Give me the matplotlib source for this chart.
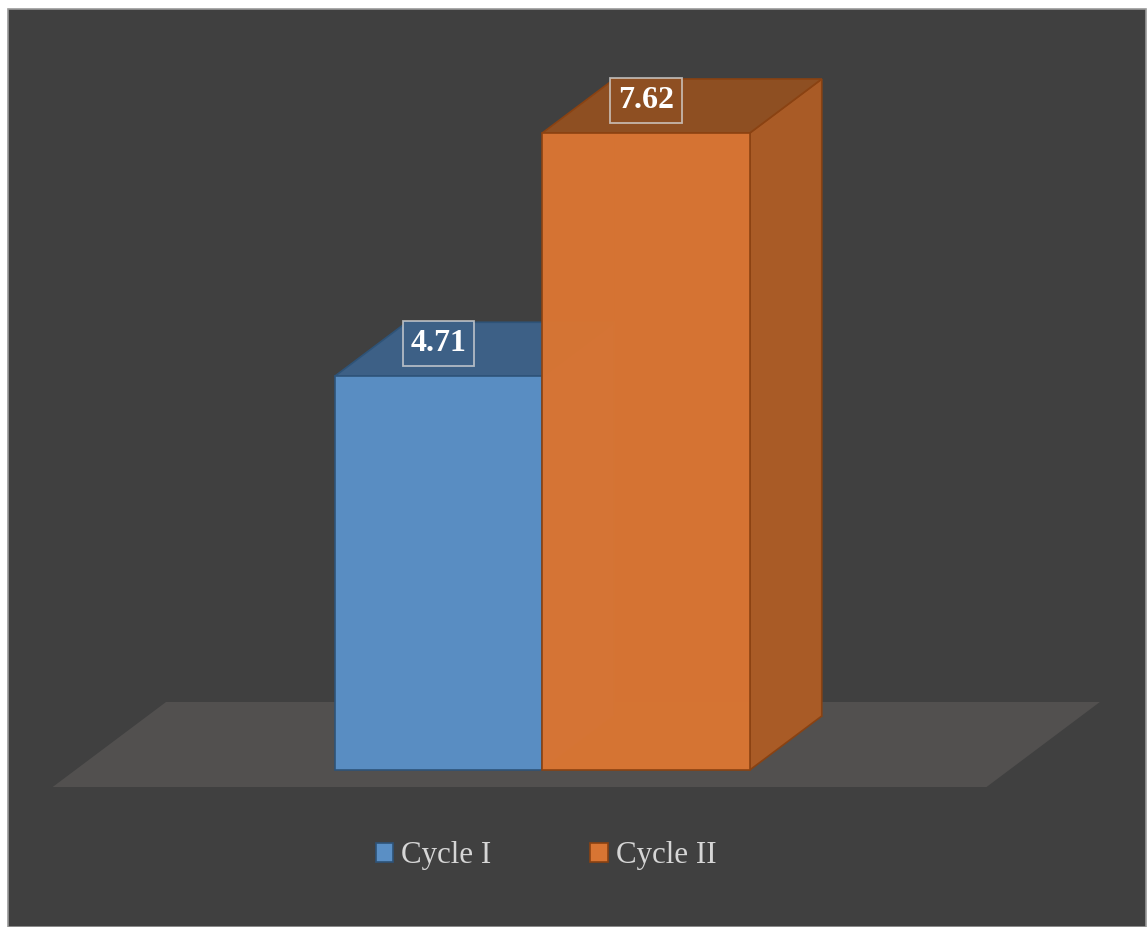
import matplotlib
matplotlib.use('Agg')
import matplotlib.pyplot as plt
from matplotlib.patches import Polygon, Rectangle, Patch

# ---- data ----
categories = ['Cycle I', 'Cycle II']
values = [4.71, 7.62]
labels = ['4.71', '7.62']

# ---- styles ----
front_colors = ['#5A8FC5', '#D87533']
top_colors = ['#3D6086', '#8E4F22']
side_colors = ['#44709C', '#A95B26']
edge_colors = ['#2E5378', '#8A4212']
BG = '#404040'
FLOOR = '#52504F'
TEXT = '#D6D6D6'
SERIF = ['Liberation Serif', 'DejaVu Serif']

DX, DY = 0.347, 0.646          # 3-D depth offset (data units)
BAR_W = 1.0

fig = plt.figure(figsize=(11.48, 9.27), dpi=100)
fig.patch.set_facecolor('white')
fig.add_artist(Rectangle((8 / 1148, 0), (1146 - 8) / 1148, (927 - 9) / 927,
                         transform=fig.transFigure, facecolor=BG,
                         edgecolor='#9a9a9a', lw=1.2, zorder=0))

ax = fig.add_axes([0, 0, 1, 1])
ax.set_xlim(-2.113, 3.419)
ax.set_ylim(-1.878, 9.211)
ax.axis('off')
ax.patch.set_alpha(0)

# ---- floor ----
fl, fr = -1.75, 2.75
ff, fb = -0.315, 1.26
floor = Polygon([(fl + ff * DX, ff * DY), (fr + ff * DX, ff * DY),
                 (fr + fb * DX, fb * DY), (fl + fb * DX, fb * DY)],
                closed=True, facecolor=FLOOR, edgecolor='none', zorder=1)
ax.add_patch(floor)

# ---- bars ----
for i, v in enumerate(values):
    z = 2 + i * 10
    x0, x1 = i - BAR_W / 2, i + BAR_W / 2
    # hidden edges (seen through translucent faces)
    ax.plot([x0 + DX, x0 + DX], [DY, v + DY], color=edge_colors[i], alpha=0.35, lw=1, zorder=z)
    ax.plot([x0 + DX, x1 + DX], [DY, DY], color=edge_colors[i], alpha=0.35, lw=1, zorder=z)
    ax.plot([x0, x0 + DX], [0, DY], color=edge_colors[i], alpha=0.35, lw=1, zorder=z)
    # side face
    ax.add_patch(Polygon([(x1, 0), (x1 + DX, DY), (x1 + DX, v + DY), (x1, v)], closed=True,
                         facecolor=side_colors[i], edgecolor=edge_colors[i], lw=1.2, zorder=z + 1))
    # top face
    ax.add_patch(Polygon([(x0, v), (x1, v), (x1 + DX, v + DY), (x0 + DX, v + DY)], closed=True,
                         facecolor=top_colors[i], edgecolor=edge_colors[i], lw=1.2, zorder=z + 1))
    # front face
    ax.add_patch(Polygon([(x0, 0), (x1, 0), (x1, v), (x0, v)], closed=True,
                         facecolor=front_colors[i], edgecolor=edge_colors[i], lw=1.2,
                         alpha=0.985, zorder=z + 2))
    # data label
    ax.text(i, v + 0.39, labels[i], ha='center', va='center', fontsize=23,
            fontweight='bold', color='white', family=SERIF, zorder=z + 5,
            bbox=dict(boxstyle='square,pad=0.25', facecolor=top_colors[i],
                      edgecolor=(0.85, 0.85, 0.85, 0.75), lw=1.3))

# ---- legend ----
handles = [Patch(facecolor=front_colors[i], edgecolor=edge_colors[i], lw=1.2)
           for i in range(len(categories))]
fig.legend(handles=handles, labels=categories, loc='center',
           bbox_to_anchor=(546 / 1148, 1 - 856 / 927), ncol=2, frameon=False,
           prop=dict(family=SERIF, size=22.3), labelcolor=TEXT,
           handlelength=0.57, handleheight=0.57, handletextpad=0.25,
           columnspacing=3.2)

fig.savefig('out.png', dpi=100, facecolor=fig.get_facecolor())
